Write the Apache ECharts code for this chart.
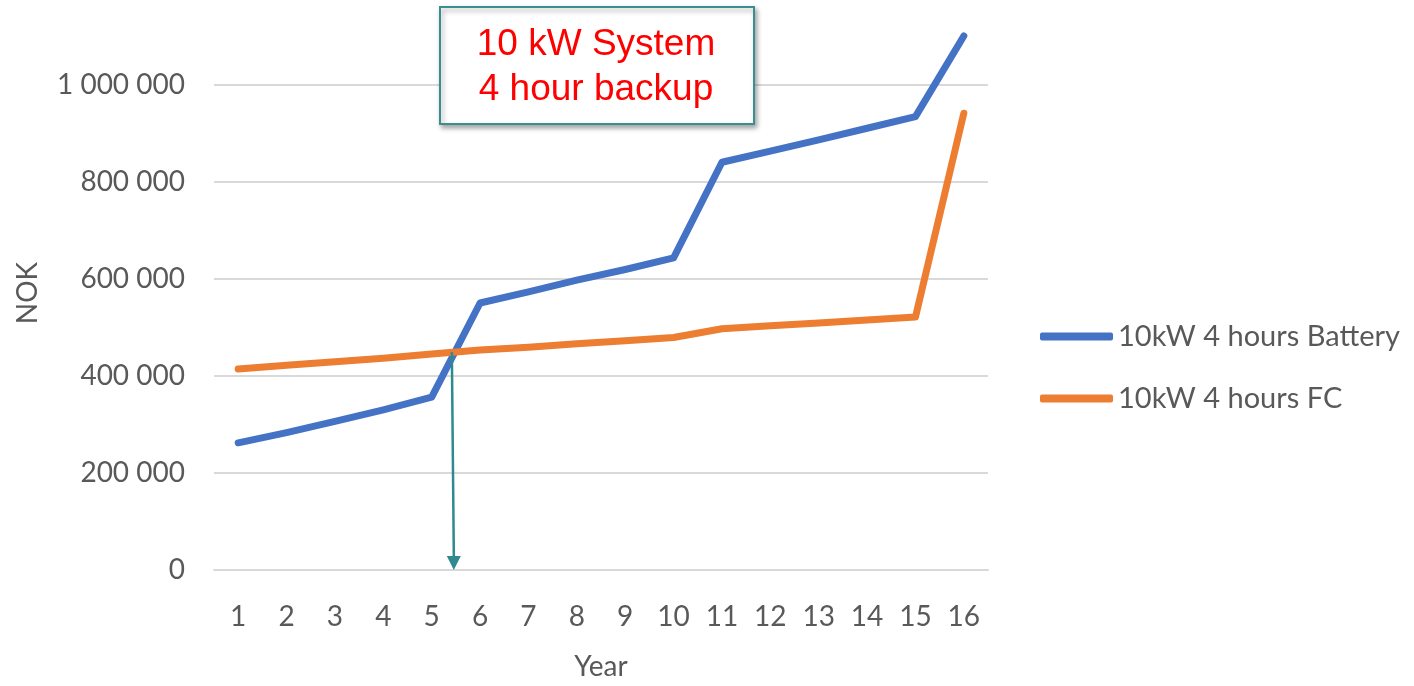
<!DOCTYPE html>
<html>
<head>
<meta charset="utf-8">
<script src="https://cdn.jsdelivr.net/npm/echarts@6/dist/echarts.min.js"></script>
<style>
html,body{margin:0;padding:0;background:#fff;}
#chart{width:1414px;height:686px;}
</style>
</head>
<body>
<div id="chart"></div>
<script>
const years = ['1','2','3','4','5','6','7','8','9','10','11','12','13','14','15','16'];
const battery = [262000, 283000, 306000, 330000, 356000, 550000, 573000, 597000, 619000, 643000, 840000, 863000, 886000, 910000, 934000, 1100000];
const fuelCell = [414000, 422000, 429000, 436000, 445000, 453000, 459000, 466000, 472000, 479000, 497000, 503000, 509000, 515000, 521000, 941000];
const seriesNames = ['10kW 4 hours Battery', '10kW 4 hours FC'];
const boxLines = ['10 kW System', '4 hour backup'];
const yMin = 0, yMax = 1100000, yStep = 200000;

const FONT = 'Lato';
const LABEL = '#595959';

const chart = echarts.init(document.getElementById('chart'), null, {renderer: 'canvas'});

function fmt(v) {
  return String(v).replace(/\B(?=(\d{3})+(?!\d))/g, ' ');
}

chart.setOption({
  animation: false,
  backgroundColor: '#fff',
  grid: {left: 214, right: 426, top: 36, bottom: 106, containLabel: false},
  legend: {
    orient: 'vertical',
    left: 1040,
    top: 322,
    padding: 0,
    itemWidth: 73,
    itemHeight: 8,
    itemGap: 33,
    icon: 'roundRect',
    textStyle: {fontFamily: FONT, fontSize: 29, color: LABEL},
    data: seriesNames
  },
  xAxis: {
    type: 'category',
    data: years,
    boundaryGap: true,
    name: 'Year',
    nameLocation: 'middle',
    nameGap: 83,
    nameTextStyle: {fontFamily: FONT, fontSize: 28, color: LABEL},
    axisLine: {show: true, lineStyle: {color: '#d9d9d9', width: 2}},
    axisTick: {show: false},
    axisLabel: {fontFamily: FONT, fontSize: 28, color: LABEL, margin: 33},
    splitLine: {show: false}
  },
  yAxis: {
    type: 'value',
    min: yMin,
    max: yMax,
    interval: yStep,
    name: 'NOK',
    nameLocation: 'middle',
    nameGap: 172,
    nameTextStyle: {fontFamily: FONT, fontSize: 28, color: LABEL, padding: [0, 0, 0, 20]},
    axisLine: {show: false},
    axisTick: {show: false},
    axisLabel: {fontFamily: FONT, fontSize: 28, color: LABEL, margin: 29, showMaxLabel: false, formatter: fmt},
    splitLine: {show: true, showMaxLine: false, lineStyle: {color: '#d9d9d9', width: 2}}
  },
  series: [
    {
      name: seriesNames[0], type: 'line', data: battery, symbol: 'none', clip: false,
      lineStyle: {color: '#4472C4', width: 7, cap: 'round', join: 'round'},
      itemStyle: {color: '#4472C4'}
    },
    {
      name: seriesNames[1], type: 'line', data: fuelCell, symbol: 'none', clip: false,
      lineStyle: {color: '#ED7D31', width: 7, cap: 'round', join: 'round'},
      itemStyle: {color: '#ED7D31'}
    }
  ]
});

// Arrow from the crossing point of the two series down to the x axis
function px(i, v) { return chart.convertToPixel({gridIndex: 0}, [years[i], v]); }
let cross = null;
for (let i = 0; i < years.length - 1 && !cross; i++) {
  const a1 = px(i, battery[i]), a2 = px(i + 1, battery[i + 1]);
  const b1 = px(i, fuelCell[i]), b2 = px(i + 1, fuelCell[i + 1]);
  const d1 = a1[1] - b1[1], d2 = a2[1] - b2[1];
  if (d1 * d2 < 0) {
    const t = d1 / (d1 - d2);
    cross = [a1[0] + t * (a2[0] - a1[0]), a1[1] + t * (a2[1] - a1[1])];
  }
}
const baseY = px(0, 0)[1];
const teal = '#2E8A8E';
const graphics = [
  {
    type: 'rect', left: 439, top: 6, z: 100,
    shape: {width: 314, height: 117},
    style: {fill: '#fff', stroke: '#3D8C90', lineWidth: 2, shadowBlur: 5, shadowOffsetX: 2, shadowOffsetY: 3, shadowColor: 'rgba(0,0,0,0.35)'}
  },
  {
    type: 'text', z: 101, x: 596, y: 67,
    style: {text: boxLines.join('\n'), fill: '#FF0000', font: '37px "Liberation Sans", Arial, sans-serif', align: 'center', verticalAlign: 'middle', lineHeight: 45}
  }
];
if (cross) {
  graphics.push({
    type: 'line', z: 50,
    shape: {x1: cross[0] - 3, y1: cross[1], x2: cross[0] - 1, y2: baseY - 12},
    style: {stroke: teal, lineWidth: 2.5}
  });
  graphics.push({
    type: 'polygon', z: 50,
    shape: {points: [[cross[0] - 8, baseY - 14], [cross[0] + 6, baseY - 14], [cross[0] - 1, baseY]]},
    style: {fill: teal}
  });
}
chart.setOption({graphic: graphics});
</script>
</body>
</html>
